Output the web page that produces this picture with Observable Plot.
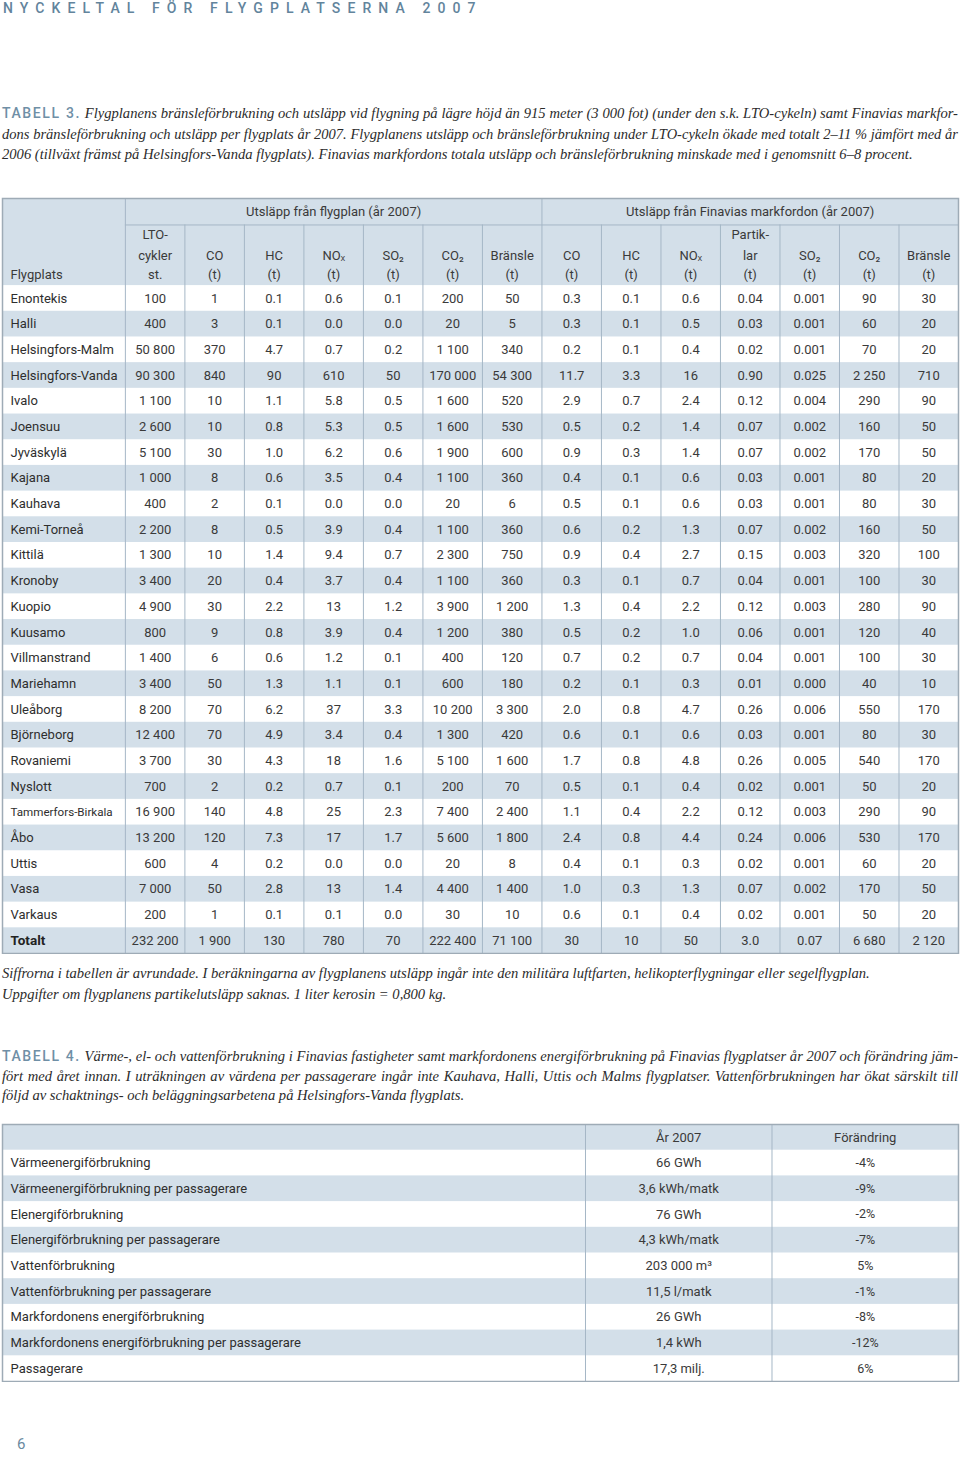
<!DOCTYPE html>
<html>
<head>
<meta charset="utf-8">
<script src="https://cdn.jsdelivr.net/npm/d3@7"></script>
<script src="https://cdn.jsdelivr.net/npm/@observablehq/plot@0.6"></script>
<style>
  html, body { margin: 0; padding: 0; background: #fff; }
  body { width: 960px; height: 1457px; position: relative; overflow: hidden; }
  .abs { position: absolute; }
  #pagehead { top: 0; left: 3px; font: 500 14px Roboto, sans-serif; letter-spacing: 7.1px; color: #62849c; line-height: 16px; white-space: nowrap; }
  .cap { left: 2px; width: 956px; font-family: "Liberation Serif", serif; font-style: italic; font-size: 14.6px; line-height: 20.5px; color: #2b2b2b; }
  .cap div { white-space: nowrap; }
  .cap .j { text-align: justify; text-align-last: justify; }
  .lab { font-family: Roboto, sans-serif; font-style: normal; font-weight: 500; font-size: 14px; letter-spacing: 1.6px; color: #6f8fa6; }
  #pagenum { left: 17px; top: 1435px; font: 400 15px Roboto, sans-serif; color: #6a8aa0; }
</style>
</head>
<body>
<div id="pagehead" class="abs">NYCKELTAL FÖR FLYGPLATSERNA 2007</div>

<div class="abs cap" style="top:103px">
  <div class="j"><span class="lab">TABELL 3.</span> Flygplanens bränsleförbrukning och utsläpp vid flygning på lägre höjd än 915 meter (3 000 fot) (under den s.k. LTO-cykeln) samt Finavias markfor-</div>
  <div class="j">dons bränsleförbrukning och utsläpp per flygplats år 2007. Flygplanens utsläpp och bränsleförbrukning under LTO-cykeln ökade med totalt 2–11 % jämfört med år</div>
  <div>2006 (tillväxt främst på Helsingfors-Vanda flygplats). Finavias markfordons totala utsläpp och bränsleförbrukning minskade med i genomsnitt 6–8 procent.</div>
</div>

<div id="t3" class="abs" style="top:197px;left:0"></div>

<div class="abs cap" style="top:963px">
  <div>Siffrorna i tabellen är avrundade. I beräkningarna av flygplanens utsläpp ingår inte den militära luftfarten, helikopterflygningar eller segelflygplan.</div>
  <div>Uppgifter om flygplanens partikelutsläpp saknas. 1 liter kerosin = 0,800 kg.</div>
</div>

<div class="abs cap" style="top:1047px;line-height:19.7px">
  <div class="j"><span class="lab">TABELL 4.</span> Värme-, el- och vattenförbrukning i Finavias fastigheter samt markfordonens energiförbrukning på Finavias flygplatser år 2007 och förändring jäm-</div>
  <div class="j">fört med året innan. I uträkningen av värdena per passagerare ingår inte Kauhava, Halli, Uttis och Malms flygplatser. Vattenförbrukningen har ökat särskilt till</div>
  <div>följd av schaktnings- och beläggningsarbetena på Helsingfors-Vanda flygplats.</div>
</div>

<div id="t4" class="abs" style="top:1123px;left:0"></div>

<div id="pagenum" class="abs">6</div>

<script>
// ---------- TABELL 3 data ----------
const airports = ["Enontekis","Halli","Helsingfors-Malm","Helsingfors-Vanda","Ivalo","Joensuu","Jyväskylä","Kajana","Kauhava","Kemi-Torneå","Kittilä","Kronoby","Kuopio","Kuusamo","Villmanstrand","Mariehamn","Uleåborg","Björneborg","Rovaniemi","Nyslott","Tammerfors-Birkala","Åbo","Uttis","Vasa","Varkaus","Totalt"];
const ltoCycles = ["100","400","50 800","90 300","1 100","2 600","5 100","1 000","400","2 200","1 300","3 400","4 900","800","1 400","3 400","8 200","12 400","3 700","700","16 900","13 200","600","7 000","200","232 200"];
const planeCO = ["1","3","370","840","10","10","30","8","2","8","10","20","30","9","6","50","70","70","30","2","140","120","4","50","1","1 900"];
const planeHC = ["0.1","0.1","4.7","90","1.1","0.8","1.0","0.6","0.1","0.5","1.4","0.4","2.2","0.8","0.6","1.3","6.2","4.9","4.3","0.2","4.8","7.3","0.2","2.8","0.1","130"];
const planeNOx = ["0.6","0.0","0.7","610","5.8","5.3","6.2","3.5","0.0","3.9","9.4","3.7","13","3.9","1.2","1.1","37","3.4","18","0.7","25","17","0.0","13","0.1","780"];
const planeSO2 = ["0.1","0.0","0.2","50","0.5","0.5","0.6","0.4","0.0","0.4","0.7","0.4","1.2","0.4","0.1","0.1","3.3","0.4","1.6","0.1","2.3","1.7","0.0","1.4","0.0","70"];
const planeCO2 = ["200","20","1 100","170 000","1 600","1 600","1 900","1 100","20","1 100","2 300","1 100","3 900","1 200","400","600","10 200","1 300","5 100","200","7 400","5 600","20","4 400","30","222 400"];
const planeFuel = ["50","5","340","54 300","520","530","600","360","6","360","750","360","1 200","380","120","180","3 300","420","1 600","70","2 400","1 800","8","1 400","10","71 100"];
const vehCO = ["0.3","0.3","0.2","11.7","2.9","0.5","0.9","0.4","0.5","0.6","0.9","0.3","1.3","0.5","0.7","0.2","2.0","0.6","1.7","0.5","1.1","2.4","0.4","1.0","0.6","30"];
const vehHC = ["0.1","0.1","0.1","3.3","0.7","0.2","0.3","0.1","0.1","0.2","0.4","0.1","0.4","0.2","0.2","0.1","0.8","0.1","0.8","0.1","0.4","0.8","0.1","0.3","0.1","10"];
const vehNOx = ["0.6","0.5","0.4","16","2.4","1.4","1.4","0.6","0.6","1.3","2.7","0.7","2.2","1.0","0.7","0.3","4.7","0.6","4.8","0.4","2.2","4.4","0.3","1.3","0.4","50"];
const vehPart = ["0.04","0.03","0.02","0.90","0.12","0.07","0.07","0.03","0.03","0.07","0.15","0.04","0.12","0.06","0.04","0.01","0.26","0.03","0.26","0.02","0.12","0.24","0.02","0.07","0.02","3.0"];
const vehSO2 = ["0.001","0.001","0.001","0.025","0.004","0.002","0.002","0.001","0.001","0.002","0.003","0.001","0.003","0.001","0.001","0.000","0.006","0.001","0.005","0.001","0.003","0.006","0.001","0.002","0.001","0.07"];
const vehCO2 = ["90","60","70","2 250","290","160","170","80","80","160","320","100","280","120","100","40","550","80","540","50","290","530","60","170","50","6 680"];
const vehFuel = ["30","20","20","710","90","50","50","20","30","50","100","30","90","40","30","10","170","30","170","20","90","170","20","50","20","2 120"];

const groupHeaders = ["Utsläpp från flygplan (år 2007)", "Utsläpp från Finavias markfordon (år 2007)"];
const columnHeaders = ["LTO-\ncykler\nst.","CO\n(t)","HC\n(t)","NOₓ\n(t)","SO₂\n(t)","CO₂\n(t)","Bränsle\n(t)","CO\n(t)","HC\n(t)","NOₓ\n(t)","Partik-\nlar\n(t)","SO₂\n(t)","CO₂\n(t)","Bränsle\n(t)"];
const firstHeader = "Flygplats";

// ---------- TABELL 4 data ----------
const t4Labels = ["Värmeenergiförbrukning","Värmeenergiförbrukning per passagerare","Elenergiförbrukning","Elenergiförbrukning per passagerare","Vattenförbrukning","Vattenförbrukning per passagerare","Markfordonens energiförbrukning","Markfordonens energiförbrukning per passagerare","Passagerare"];
const t4Values = ["66 GWh","3,6 kWh/matk","76 GWh","4,3 kWh/matk","203 000 m³","11,5 l/matk","26 GWh","1,4 kWh","17,3 milj."];
const t4Change = ["-4%","-9%","-2%","-7%","5%","-1%","-8%","-12%","6%"];
const t4Headers = ["År 2007","Förändring"];

// ---------- styles ----------
const BLUE = "#d3dfe9";
const GRID = "#a5b7c6";
const BORDER = "#9eabb6";
const TXT = "#3a3a3a";

// fit justified caption lines that would overflow
document.querySelectorAll(".cap .j").forEach(el => {
  let fs = 14.6;
  el.style.display = "inline-block";
  el.style.width = "auto";
  while (el.getBoundingClientRect().width > 955 && fs > 12) {
    fs -= 0.1;
    el.style.fontSize = fs + "px";
  }
  el.style.display = "block";
});

// ---------- build TABELL 3 ----------
{
  const columns = [ltoCycles, planeCO, planeHC, planeNOx, planeSO2, planeCO2, planeFuel,
                   vehCO, vehHC, vehNOx, vehPart, vehSO2, vehCO2, vehFuel];
  const nCols = columns.length;
  const nRows = airports.length;
  const W0 = 2.065;          // width of airport column in column units
  const H0 = 3.39;           // header height in row units
  const H1 = 1.03;           // first header row height in row units
  const lineY = [-1.99, -1.17, -0.43];

  const rows = airports.map((name, i) => ({i, name, total: i === nRows - 1}));
  const cells = [];
  columns.forEach((col, j) => col.forEach((v, i) => cells.push({row: i, col: j, text: v})));
  const headerLines = [];
  columnHeaders.forEach((h, j) => {
    const parts = h.split("\n");
    parts.forEach((t, k) => headerLines.push({col: j, line: 3 - parts.length + k, text: t}));
  });
  const groupStarts = [0, 7];

  const chart = Plot.plot({
    width: 960, height: 757,
    marginTop: 1, marginBottom: 1, marginLeft: 2, marginRight: 2,
    x: {type: "linear", domain: [-W0, nCols], axis: null},
    y: {type: "linear", domain: [-H0, nRows], reverse: true, axis: null},
    style: {fontFamily: "Roboto, sans-serif", background: "white", color: TXT},
    marks: [
      Plot.rect([0], {x1: -W0, x2: nCols, y1: -H0, y2: 0, fill: BLUE}),
      Plot.rect(rows.filter(d => d.i % 2 === 1), {x1: -W0, x2: nCols, y1: d => d.i, y2: d => d.i + 1, fill: BLUE}),
      Plot.ruleY([-H0 + H1], {x1: 0, x2: nCols, stroke: GRID, strokeWidth: 1}),
      Plot.ruleX(d3.range(0, nCols), {x: d => d, y1: d => groupStarts.includes(d) ? -H0 : -H0 + H1, y2: nRows, stroke: GRID, strokeWidth: 1}),
      Plot.text(groupHeaders, {x: (d, i) => groupStarts[i] + 3.5, y: -H0 + H1 / 2, text: d => d, fontSize: 13, fill: TXT}),
      Plot.text(headerLines, {x: d => d.col + 0.5, y: d => lineY[d.line], text: "text", fontSize: 13, fill: TXT}),
      Plot.text([firstHeader], {x: -W0, dx: 8, y: lineY[2], text: d => d, textAnchor: "start", fontSize: 13, fill: TXT}),
      Plot.text(rows.filter(d => !d.total), {x: -W0, dx: 8, y: d => d.i + 0.5, text: "name", textAnchor: "start",
        fontSize: d => d.name.length > 17 ? 11.6 : 13, fill: "#2e2e2e"}),
      Plot.text(rows.filter(d => d.total), {x: -W0, dx: 8, y: d => d.i + 0.5, text: "name", textAnchor: "start",
        fontSize: 13.5, fontWeight: "bold", fill: "#222"}),
      Plot.text(cells, {x: d => d.col + 0.5, y: d => d.row + 0.5, text: "text", fontSize: 13, fill: TXT}),
      Plot.frame({stroke: BORDER, strokeWidth: 1.5})
    ]
  });
  document.getElementById("t3").appendChild(chart);
}

// ---------- build TABELL 4 ----------
{
  const n = t4Labels.length;
  const W0 = 3.126;   // label column width in value-column units
  const items = t4Labels.map((label, i) => ({i, label, value: t4Values[i], change: t4Change[i]}));
  const chart = Plot.plot({
    width: 960, height: 259,
    marginTop: 1, marginBottom: 1, marginLeft: 2, marginRight: 2,
    x: {type: "linear", domain: [0, W0 + 2], axis: null},
    y: {type: "linear", domain: [-1, n], reverse: true, axis: null},
    style: {fontFamily: "Roboto, sans-serif", background: "white", color: TXT},
    marks: [
      Plot.rect([0], {x1: 0, x2: W0 + 2, y1: -1, y2: 0, fill: BLUE}),
      Plot.rect(items.filter(d => d.i % 2 === 1), {x1: 0, x2: W0 + 2, y1: d => d.i, y2: d => d.i + 1, fill: BLUE}),
      Plot.ruleX([W0, W0 + 1], {y1: -1, y2: n, stroke: GRID, strokeWidth: 1}),
      Plot.text(t4Headers, {x: (d, i) => W0 + i + 0.5, y: -0.5, text: d => d, fontSize: 13, fill: TXT}),
      Plot.text(items, {x: 0, dx: 8, y: d => d.i + 0.5, text: "label", textAnchor: "start", fontSize: 13, fill: "#2e2e2e"}),
      Plot.text(items, {x: W0 + 0.5, y: d => d.i + 0.5, text: "value", fontSize: 13, fill: TXT}),
      Plot.text(items, {x: W0 + 1.5, y: d => d.i + 0.5, text: "change", fontSize: 12.5, fill: TXT}),
      Plot.frame({stroke: BORDER, strokeWidth: 1.5})
    ]
  });
  document.getElementById("t4").appendChild(chart);
}
</script>
</body>
</html>
